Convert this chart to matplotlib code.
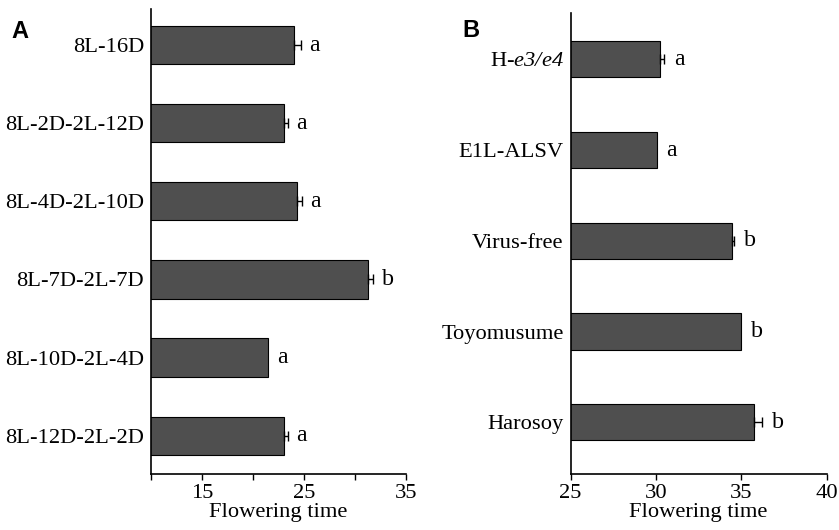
import numpy as np
import matplotlib
matplotlib.use("Agg")
import matplotlib.pyplot as plt

plt.rcParams['font.family'] = 'Liberation Serif'
plt.rcParams['mathtext.fontset'] = 'custom'
plt.rcParams['mathtext.rm'] = 'Liberation Serif'
# italic digits too (mathit keeps digits upright)
plt.rcParams['mathtext.sf'] = 'Liberation Serif:italic'

# panel A data
a_labels = ['8L-16D', '8L-2D-2L-12D', '8L-4D-2L-10D', '8L-7D-2L-7D', '8L-10D-2L-4D', '8L-12D-2L-2D']
a_vals = [24.0, 23.0, 24.3, 31.3, 21.5, 23.0]
a_err = [0.7, 0.4, 0.5, 0.5, 0.0, 0.4]
a_sig = ['a', 'a', 'a', 'b', 'a', 'a']

# panel B data
b_labels = ['H-$\\mathsf{e3/e4}$', 'E1L-ALSV', 'Virus-free', 'Toyomusume', 'Harosoy']
b_vals = [30.25, 30.05, 34.45, 35.0, 35.75]
b_err = [0.25, 0.0, 0.15, 0.0, 0.47]
b_sig = ['a', 'a', 'b', 'b', 'b']

barcol = '#4f4f4f'
fs = 16.2

fig = plt.figure(figsize=(8.39, 5.3), dpi=100)
axA = fig.add_axes([0.18, 0.1057, 0.304, 0.877])
axB = fig.add_axes([0.68, 0.1057, 0.3053, 0.8698])

def draw(ax, labels, vals, err, sig, height, lo, hi, xlim, major, minor, gap):
    y = np.arange(len(labels))
    vals = np.array(vals)
    err = np.array(err)
    ax.barh(y, vals, height=height, color=barcol, edgecolor='black', linewidth=0.8, zorder=2)
    m = err > 0
    ax.errorbar(vals[m], y[m], xerr=[np.zeros(m.sum()), err[m]], fmt='none', ecolor='black',
                elinewidth=1, capsize=3.5, capthick=1, zorder=3)
    for yi, v, e, s in zip(y, vals, err, sig):
        ax.annotate(s, (v + e, yi), xytext=(gap, 0), textcoords='offset points',
                    ha='left', va='center', fontsize=fs + 1)
    ax.set_yticks(y)
    ax.set_yticklabels(labels, fontsize=fs)
    ax.set_ylim(len(labels) - 1 + lo, -hi)
    ax.set_xlim(*xlim)
    ax.set_xticks(major)
    ax.set_xticks(minor, minor=True)
    ax.tick_params(axis='x', which='both', direction='out', length=4, width=1, labelsize=fs, pad=3)
    ax.tick_params(axis='y', length=0, pad=5)
    ax.spines['top'].set_visible(False)
    ax.spines['right'].set_visible(False)
    ax.spines['left'].set_linewidth(1.2)
    ax.spines['bottom'].set_linewidth(1.2)
    ax.set_xlabel('Flowering time', fontsize=fs, labelpad=0)

draw(axA, a_labels, a_vals, a_err, a_sig, 0.49, 0.49, 0.46, (10, 35), [15, 25, 35], [10, 20, 30], 6)
draw(axB, b_labels, b_vals, b_err, b_sig, 0.4, 0.57, 0.51, (25, 40), [25, 30, 35, 40], [], 7)

fig.text(0.013, 0.928, 'A', fontsize=17, fontweight='bold', family='Liberation Sans')
fig.text(0.551, 0.93, 'B', fontsize=17, fontweight='bold', family='Liberation Sans')

plt.savefig('out.png', dpi=100)
